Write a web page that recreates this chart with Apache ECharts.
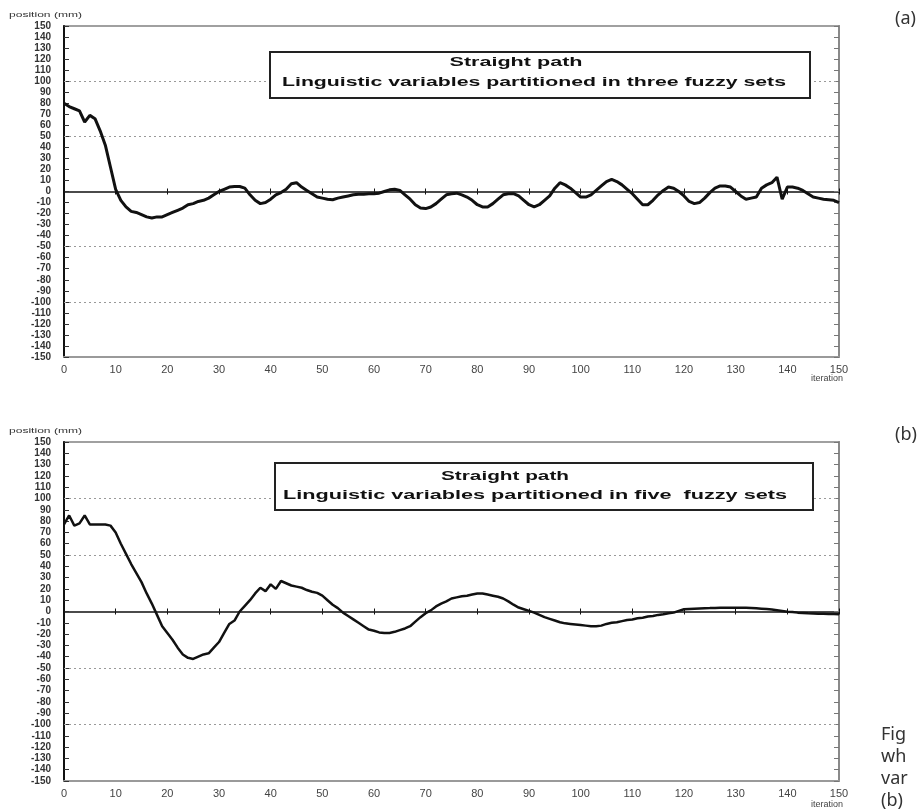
<!DOCTYPE html>
<html><head><meta charset="utf-8">
<script src="https://cdn.jsdelivr.net/npm/echarts@6/dist/echarts.min.js"></script>
<style>html,body{margin:0;padding:0;background:#fff}#c{width:921px;height:812px}</style>
</head><body><div id="c"></div>
<script>
// iteration = index (0..150)
const valuesA = [
80,77,75,73,63,69,66,55,42,22,
2,-8,-14,-18,-19,-21,-23,-24,-23,-23,
-21,-19,-17,-15,-12,-11,-9,-8,-6,-3,
0,2,4,4.5,4.5,3,-3,-8,-11,-10,
-7,-3,-1,2,7,8,4,1,-2,-5,
-6,-7,-7.5,-6,-5,-4,-3,-2.5,-2.5,-2,
-2,-1.5,0,1.5,2,1,-3,-7,-12,-15,
-15.5,-14,-11,-7,-3,-2,-1.5,-3,-5,-8,
-12,-14,-14,-11,-7,-3,-2,-2,-4,-8,
-12,-14,-12,-8,-4,3,8,6,3,-1,
-5,-5,-3,1,5,9,11,9,6,2,
-2,-7,-12,-12,-8,-3,1,4,3,0,
-4,-9,-11,-10,-6,-1,3,5,5,4,
0,-4,-7,-6,-5,3,6,8,13,-7,
4,4,3,1,-2,-5,-6,-7,-7.5,-8,
-10];
const valuesB = [
77,85,76,78,85,77,77,77,77,76,
70,60,51,42,34,26,16,7,-3,-13,
-19,-25,-32,-38,-41,-42,-40,-38,-37,-32,
-27,-19,-11,-8,0,5,10,16,21,18,
24,20,27,25,23,22,21,19,17.5,16.5,
14,10,6,3,-1,-4,-7,-10,-13,-16,
-17,-18.5,-19,-19,-18,-16.5,-15,-13,-9,-5,
-1.5,1,4.5,7,9,11.5,12.5,13.5,14,15,
16,16,15,14,13,11.5,9,6,3.5,2,
0.5,-1,-3,-5,-6.5,-8,-9.5,-10.5,-11,-11.5,
-12,-12.5,-13,-13,-12.5,-11,-10,-9.5,-8.5,-7.5,
-7,-6,-5.5,-4.5,-4,-3,-2.5,-1.5,-1,0.5,
2,2.3,2.5,2.7,2.9,3,3.2,3.3,3.4,3.4,
3.4,3.4,3.3,3.1,2.8,2.5,2.2,1.8,1.2,0.5,
-0.2,-0.5,-1,-1.3,-1.6,-1.8,-2,-2,-2.2,-2.3,
-2.5];
const refLines = [100, 50, -50, -100];
const titleLine1 = "Straight path";
const titleA = "Linguistic variables partitioned in three fuzzy sets";
const titleB = "Linguistic variables partitioned in five  fuzzy sets";
const yName = "position (mm)";
const xName = "iteration";

function fitScale(text, font, target) {
  const ctx = document.createElement('canvas').getContext('2d');
  ctx.font = font;
  return target / ctx.measureText(text).width;
}
const boxFont = 'bold 12px "Liberation Sans"';
const nameFont = '8px "Liberation Sans"';

const chart = echarts.init(document.getElementById('c'), null, {renderer:'canvas'});
const grids = [
  {left:64, right:82, top:26, height:331, show:true, borderColor:'#a0a0a0', borderWidth:2, backgroundColor:'transparent'},
  {left:64, right:82, top:442, height:339, show:true, borderColor:'#a0a0a0', borderWidth:2, backgroundColor:'transparent'}
];
const xAxes = [], yAxes = [], series = [];
[valuesA, valuesB].forEach((vals, g) => {
  const base = xAxes.length;
  xAxes.push({type:'value', gridIndex:g, min:0, max:150, interval:10, position:'bottom',
    axisLine:{onZero:false, lineStyle:{color:'#9a9a9a', width:2}},
    axisTick:{show:false}, splitLine:{show:false},
    axisLabel:{color:'#444', fontSize:11, fontFamily:'Liberation Sans', margin:7}});
  xAxes.push({type:'value', gridIndex:g, min:0, max:150, interval:10, position:'top',
    axisLine:{onZero:true, lineStyle:{color:'#111', width:1.5}},
    axisTick:{show:true, inside:false, length:3, lineStyle:{color:'#111', width:1}},
    axisLabel:{show:false}, splitLine:{show:false}});
  xAxes.push({type:'value', gridIndex:g, min:0, max:150, interval:10, position:'top',
    axisLine:{onZero:true, show:false},
    axisTick:{show:true, inside:true, length:3, lineStyle:{color:'#111', width:1}},
    axisLabel:{show:false}, splitLine:{show:false}});
  const ybase = yAxes.length;
  yAxes.push({type:'value', gridIndex:g, min:-150, max:150, interval:10, position:'left',
    axisLine:{show:true, onZero:false, lineStyle:{color:'#111', width:2}},
    axisTick:{show:true, inside:true, length:5, lineStyle:{color:'#333'}},
    axisLabel:{color:'#333', fontSize:10, fontWeight:'bold', fontFamily:'Liberation Sans', margin:13},
    splitLine:{show:false}});
  yAxes.push({type:'value', gridIndex:g, min:-150, max:150, interval:10, position:'right',
    axisLine:{show:true, onZero:false, lineStyle:{color:'#8a8a8a', width:2}},
    axisTick:{show:true, inside:true, length:5, lineStyle:{color:'#777'}},
    axisLabel:{show:false}, splitLine:{show:false}});
  series.push({type:'line', xAxisIndex:base, yAxisIndex:ybase,
    data: vals.map((v,i)=>[i,v]), showSymbol:false, symbol:'none',
    lineStyle:{color:'#111', width: g===0 ? 3 : 2.5}, z:5, animation:false,
    markLine:{silent:true, symbol:'none', label:{show:false}, animation:false,
      lineStyle:{color:'#999', type:[2,3], width:1},
      data: refLines.map(v=>({yAxis:v}))}});
});

function boxText(text, cx, cy, width) {
  return {type:'text', x:cx, y:cy, scaleX: fitScale(text, boxFont, width), z:11,
    style:{text:text, font:boxFont, fill:'#111', align:'center', verticalAlign:'middle'}};
}
function plainText(text, x, y, font, fill) {
  return {type:'text', x:x, y:y, style:{text:text, font:font, fill:fill, align:'left', verticalAlign:'middle'}};
}

chart.setOption({
  animation:false,
  backgroundColor:'#fff',
  grid: grids,
  xAxis: xAxes,
  yAxis: yAxes,
  series: series,
  graphic: [
    {type:'text', x:9, y:15, scaleX: fitScale(yName, nameFont, 73), style:{text:yName, font:nameFont, fill:'#333', align:'left', verticalAlign:'middle'}},
    {type:'text', x:9, y:431, scaleX: fitScale(yName, nameFont, 73), style:{text:yName, font:nameFont, fill:'#333', align:'left', verticalAlign:'middle'}},
    {type:'text', x:843, y:379, style:{text:xName, font:'9px "Liberation Sans"', fill:'#444', align:'right', verticalAlign:'middle'}},
    {type:'text', x:843, y:805, style:{text:xName, font:'9px "Liberation Sans"', fill:'#444', align:'right', verticalAlign:'middle'}},
    {type:'rect', shape:{x:270, y:52, width:540, height:46}, style:{fill:'#fff', stroke:'#222', lineWidth:2}, z:10},
    boxText(titleLine1, 516, 63, 133),
    boxText(titleA, 534, 83, 504),
    {type:'rect', shape:{x:275, y:463, width:538, height:47}, style:{fill:'#fff', stroke:'#222', lineWidth:2}, z:10},
    boxText(titleLine1, 505, 477, 128),
    boxText(titleB, 535, 496, 504),
    plainText('(a)', 895, 19, '18px "Noto Sans"', '#333'),
    plainText('(b)', 895, 435, '18px "Noto Sans"', '#333'),
    plainText('Fig', 881, 735, '18px "Noto Sans"', '#333'),
    plainText('wh', 881, 757, '18px "Noto Sans"', '#333'),
    plainText('var', 881, 779, '18px "Noto Sans"', '#333'),
    plainText('(b)', 881, 801, '18px "Noto Sans"', '#333')
  ]
});
</script></body></html>
